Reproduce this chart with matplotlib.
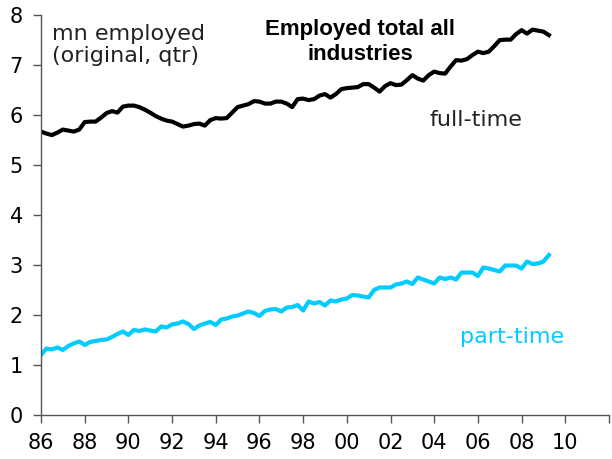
import matplotlib
matplotlib.use('Agg')
import matplotlib.pyplot as plt
import numpy as np

# quarterly, 1986 Q1 to 2009 Q2, mn employed
start_year = 1986
full_time = [5.67, 5.63, 5.60, 5.65, 5.71, 5.69, 5.67, 5.71,
             5.86, 5.87, 5.87, 5.95, 6.04, 6.08, 6.05, 6.17,
             6.19, 6.19, 6.16, 6.11, 6.05, 5.98, 5.93, 5.89,
             5.87, 5.82, 5.77, 5.79, 5.82, 5.83, 5.79, 5.90,
             5.94, 5.93, 5.94, 6.05, 6.16, 6.19, 6.22, 6.28,
             6.27, 6.23, 6.23, 6.27, 6.27, 6.23, 6.16, 6.32,
             6.33, 6.30, 6.32, 6.39, 6.42, 6.35, 6.42, 6.52,
             6.54, 6.55, 6.56, 6.62, 6.62, 6.55, 6.47, 6.58,
             6.64, 6.60, 6.61, 6.70, 6.80, 6.73, 6.69, 6.80,
             6.87, 6.84, 6.83, 6.97, 7.10, 7.09, 7.12, 7.20,
             7.27, 7.24, 7.27, 7.38, 7.50, 7.51, 7.51, 7.62,
             7.70, 7.63, 7.71, 7.69, 7.67, 7.60]
part_time = [1.20, 1.33, 1.31, 1.35, 1.30, 1.38, 1.43, 1.47,
             1.40, 1.46, 1.48, 1.50, 1.51, 1.56, 1.62, 1.67,
             1.60, 1.70, 1.68, 1.71, 1.69, 1.67, 1.77, 1.75,
             1.81, 1.83, 1.87, 1.82, 1.72, 1.79, 1.83, 1.86,
             1.80, 1.91, 1.93, 1.97, 1.99, 2.03, 2.07, 2.04,
             1.98, 2.08, 2.11, 2.12, 2.07, 2.15, 2.16, 2.20,
             2.09, 2.27, 2.23, 2.26, 2.19, 2.29, 2.27, 2.31,
             2.33, 2.40, 2.39, 2.37, 2.35, 2.50, 2.55, 2.55,
             2.55, 2.61, 2.63, 2.67, 2.62, 2.75, 2.71, 2.67,
             2.63, 2.75, 2.72, 2.75, 2.71, 2.85, 2.85, 2.85,
             2.78, 2.95, 2.93, 2.90, 2.87, 2.99, 2.99, 2.99,
             2.93, 3.07, 3.02, 3.03, 3.07, 3.20]

xtick_years = list(range(1986, 2013, 2))
xtick_labels = ['86', '88', '90', '92', '94', '96', '98', '00', '02', '04', '06', '08', '10', '']

t = start_year + np.arange(len(full_time)) / 4.0

fig = plt.figure(figsize=(6.12, 4.59), dpi=100)
ax = fig.add_axes([0.067, 0.096, 0.928, 0.871])

ax.plot(t, full_time, color='black', lw=3.0, solid_joinstyle='round')
ax.plot(t, part_time, color='#00CCFF', lw=3.0, solid_joinstyle='round')

ax.set_xlim(1986, 2012)
ax.set_ylim(0, 8)
ax.set_xticks(xtick_years)
ax.set_xticklabels(xtick_labels)
ax.set_yticks(range(0, 9))

for s in ['top', 'right']:
    ax.spines[s].set_visible(False)
for s in ['left', 'bottom']:
    ax.spines[s].set_color('#555555')
    ax.spines[s].set_linewidth(1.0)
ax.tick_params(axis='both', direction='out', length=6, width=1, color='#555555',
               labelsize=15, pad=7)

ax.text(1986.5, 7.83, 'mn employed\n(original, qtr)', fontsize=16, va='top',
        ha='left', linespacing=1.15, color='#222222')
ax.text(2000.6, 7.92, 'Employed total all\nindustries', fontsize=16,
        fontweight='bold', va='top', ha='center', family='Liberation Sans',
        linespacing=1.25)
ax.text(2003.8, 5.9, 'full-time', fontsize=16, va='center', ha='left',
        color='#222222')
ax.text(2005.2, 1.55, 'part-time', fontsize=16, va='center', ha='left',
        color='#00CCFF')

plt.savefig('out.png', dpi=100)
